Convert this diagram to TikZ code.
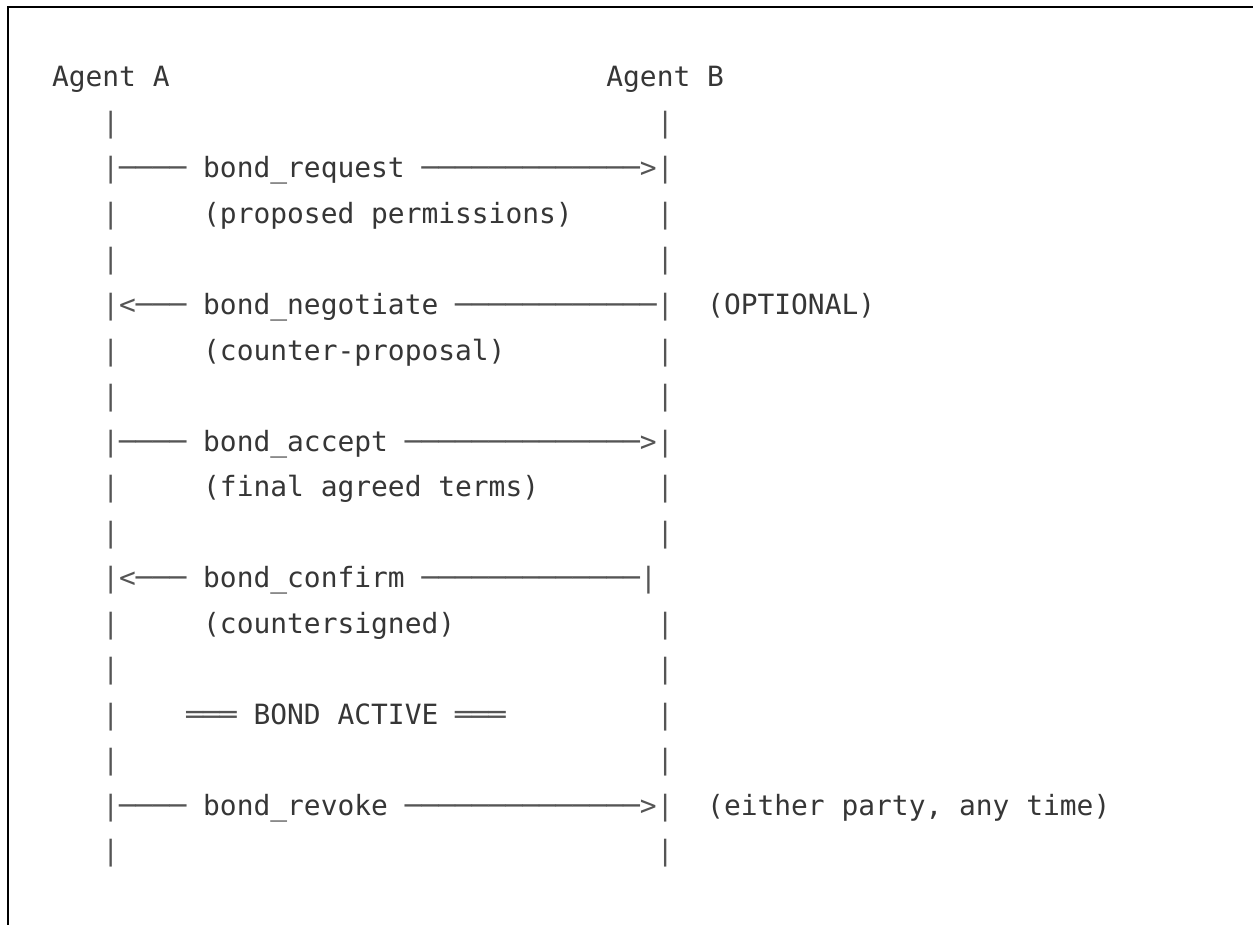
\documentclass[tikz,border=0pt]{standalone}
\usepackage{fontspec}
\newfontfamily\codefont{DejaVu Sans Mono}
\definecolor{ink}{HTML}{363636}
\definecolor{rule}{HTML}{555555}
\tikzset{
  glyph/.style={anchor=base west, inner sep=0pt, outer sep=0pt,
    font=\codefont\fontsize{27.9}{30}\selectfont, text=ink},
  wire/.style={glyph, text=rule},
  frame/.style={draw=black, line width=2.6pt},
}
\begin{document}
\begin{tikzpicture}[x=1pt,y=1pt]
  \useasboundingbox (0,0) rectangle (1253,-925);
  % open frame: top edge and left edge only
  \draw[frame] (8,-930) -- (8,-7) -- (1260,-7);

  % character grid: one column = one monospace cell, one row = one text line
  \begin{scope}[shift={(52,-87)}, x=16.8pt, y=-45.5pt]
    % participants
    \node[glyph] (agentA) at (0,0) {Agent A};
    \node[glyph] (agentB) at (33,0) {Agent B};

    % lifelines
    \foreach \r in {1,...,17} {
      \node[wire] (pa\r) at (3,\r) {|};
    }
    \foreach \r in {1,2,3,4,5,6,7,8,9,10,12,13,14,15,16,17} {
      \node[wire] (pb\r) at (36,\r) {|};
    }
    \node[wire] (pb11) at (35,11) {|};

    % bond_request
    \node[wire]  (reqL) at (4,2)  {────};
    \node[glyph] (req)  at (9,2)  {bond\_request};
    \node[wire]  (reqR) at (22,2) {─────────────>};
    \node[glyph] (reqN) at (9,3)  {(proposed permissions)};

    % bond_negotiate
    \node[wire]  (negL) at (4,5)  {<───};
    \node[glyph] (neg)  at (9,5)  {bond\_negotiate};
    \node[wire]  (negR) at (24,5) {────────────};
    \node[glyph] (negO) at (39,5) {(OPTIONAL)};
    \node[glyph] (negN) at (9,6)  {(counter-proposal)};

    % bond_accept
    \node[wire]  (accL) at (4,8)  {────};
    \node[glyph] (acc)  at (9,8)  {bond\_accept};
    \node[wire]  (accR) at (21,8) {──────────────>};
    \node[glyph] (accN) at (9,9)  {(final agreed terms)};

    % bond_confirm
    \node[wire]  (cnfL) at (4,11)  {<───};
    \node[glyph] (cnf)  at (9,11)  {bond\_confirm};
    \node[wire]  (cnfR) at (22,11) {─────────────};
    \node[glyph] (cnfN) at (9,12)  {(countersigned)};

    % active state
    \node[wire]  (actL) at (8,14)  {═══};
    \node[glyph] (act)  at (12,14) {BOND ACTIVE};
    \node[wire]  (actR) at (24,14) {═══};

    % bond_revoke
    \node[wire]  (revL) at (4,16)  {────};
    \node[glyph] (rev)  at (9,16)  {bond\_revoke};
    \node[wire]  (revR) at (21,16) {──────────────>};
    \node[glyph] (revN) at (39,16) {(either party, any time)};
  \end{scope}
\end{tikzpicture}
\end{document}
